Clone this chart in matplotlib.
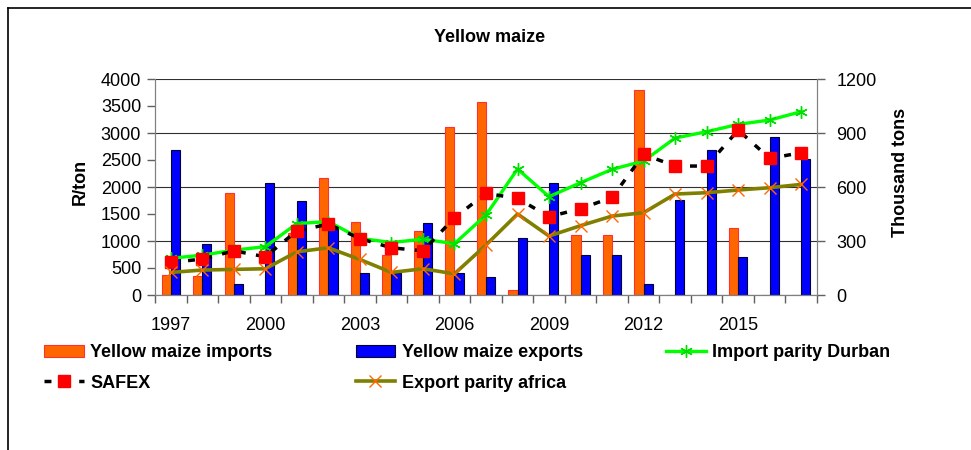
#!/usr/bin/env python3
"""Yellow maize: trade volumes vs price parities, 1997-2017."""

import matplotlib
matplotlib.use("Agg")
import matplotlib.pyplot as plt
from matplotlib.lines import Line2D
import numpy as np

plt.rcParams['font.family'] = ['Liberation Sans', 'DejaVu Sans']

years = list(range(1997, 2018))
label_years = [1997, 2000, 2003, 2006, 2009, 2012, 2015]

# thousand tons (right axis)
imports = [111, 105, 569, 0, 347, 652, 408, 220, 358, 932, 1074,
           28, 0, 333, 333, 1139, 0, 0, 370, 0, 0]
exports = [803, 282, 59, 624, 524, 369, 120, 122, 402, 120, 102,
           315, 620, 222, 222, 59, 526, 805, 213, 876, 755]

# R/ton (left axis)
import_parity_durban = [680, 738, 830, 895, 1323, 1360, 1050, 972, 1034, 950, 1481,
                        2333, 1821, 2080, 2327, 2481, 2907, 3024, 3160, 3240, 3395]
safex = [603, 665, 818, 708, 1188, 1311, 1046, 874, 818, 1430, 1882,
         1790, 1450, 1598, 1808, 2604, 2388, 2388, 3054, 2530, 2635]
export_parity_africa = [418, 462, 474, 486, 800, 874, 658, 418, 486, 392, 926,
                        1500, 1092, 1284, 1462, 1524, 1870, 1894, 1944, 1987, 2048]

W, H = 971, 450
fig = plt.figure(figsize=(W / 100, H / 100), dpi=100)
fig.patch.set_facecolor('white')

# outer chart border (only left and top visible in the crop)
fig.add_artist(Line2D([8 / W, 8 / W], [0, 1 - 8 / H], color='black', lw=1.2))
fig.add_artist(Line2D([8 / W, 1], [1 - 8 / H, 1 - 8 / H], color='black', lw=1.2))

left, right, bottom, top = 155 / W, 817 / W, 1 - 295 / H, 1 - 79 / H
ax = fig.add_axes([left, bottom, right - left, top - bottom])
ax2 = ax.twinx()
ax.set_zorder(ax2.get_zorder() + 1)
ax.patch.set_visible(False)

x = np.arange(len(years))
bw = 0.29
ax2.bar(x - bw / 2, imports, bw, color='#FF6600', edgecolor='#FF3030', lw=0.8,
        label='Yellow maize imports')
ax2.bar(x + bw / 2, exports, bw, color='#0000FF', edgecolor='#000033', lw=0.8,
        label='Yellow maize exports')
ax2.set_ylim(0, 1200)
ax2.set_yticks(range(0, 1201, 300))
ax2.yaxis.grid(True, color='#303030', lw=0.8)
ax2.set_axisbelow(True)

ax.plot(x, import_parity_durban, color='#00FF00', lw=2.4, marker=(6, 2, 0),
        ms=9, mec='#00E000', mew=1.0, label='Import parity Durban')
ax.plot(x, safex, color='black', lw=2.5, ls=(0, (2, 3)), marker='s', ms=8,
        mfc='#FF0000', mec='#FF0000', label='SAFEX')
ax.plot(x, export_parity_africa, color='#808000', lw=2.6, marker='x', ms=9,
        mec='#FF6600', mew=1.0, label='Export parity africa')
ax.set_ylim(0, 4000)
ax.set_yticks(range(0, 4001, 500))
ax.set_xlim(-0.5, len(years) - 0.5)

# category boundary ticks, labels every third year
ax.set_xticks(np.arange(-0.5, len(years), 1.0))
ax.set_xticklabels([])
ax.set_xticks([years.index(y) for y in label_years], minor=True)
ax.set_xticklabels([str(y) for y in label_years], minor=True)
ax.tick_params(axis='x', which='major', length=6, width=1, color='#606060', direction='out')
ax.tick_params(axis='x', which='minor', length=0, pad=16, labelsize=13)
ax.tick_params(axis='y', length=6, width=1, color='#606060', labelsize=13, pad=4)
ax2.tick_params(axis='y', length=6, width=1, color='#606060', labelsize=13, pad=8)

for a in (ax, ax2):
    for s in a.spines.values():
        s.set_color('#808080')
    a.spines['top'].set_visible(False)

fig.text(490 / W, 1 - 38 / H, 'Yellow maize', ha='center', va='center',
         fontsize=13, fontweight='bold')
fig.text(80 / W, 1 - 182 / H, 'R/ton', ha='center', va='center', rotation=90,
         fontsize=13, fontweight='bold')
fig.text(900 / W, 1 - 172 / H, 'Thousand tons', ha='center', va='center',
         rotation=90, fontsize=13, fontweight='bold')

h1, l1 = ax2.get_legend_handles_labels()
h2, l2 = ax.get_legend_handles_labels()
hd = dict(zip(l1 + l2, h1 + h2))
order = ['Yellow maize imports', 'SAFEX', 'Yellow maize exports',
         'Export parity africa', 'Import parity Durban']
fig.legend([hd[k] for k in order], order, ncol=3, loc='upper left',
           bbox_to_anchor=(28 / W, 1 - 328 / H), frameon=False,
           prop={'size': 13, 'weight': 'bold'}, handlelength=2.2,
           handletextpad=0.35, columnspacing=4.6, labelspacing=0.75)

fig.savefig('out.png', dpi=100)
